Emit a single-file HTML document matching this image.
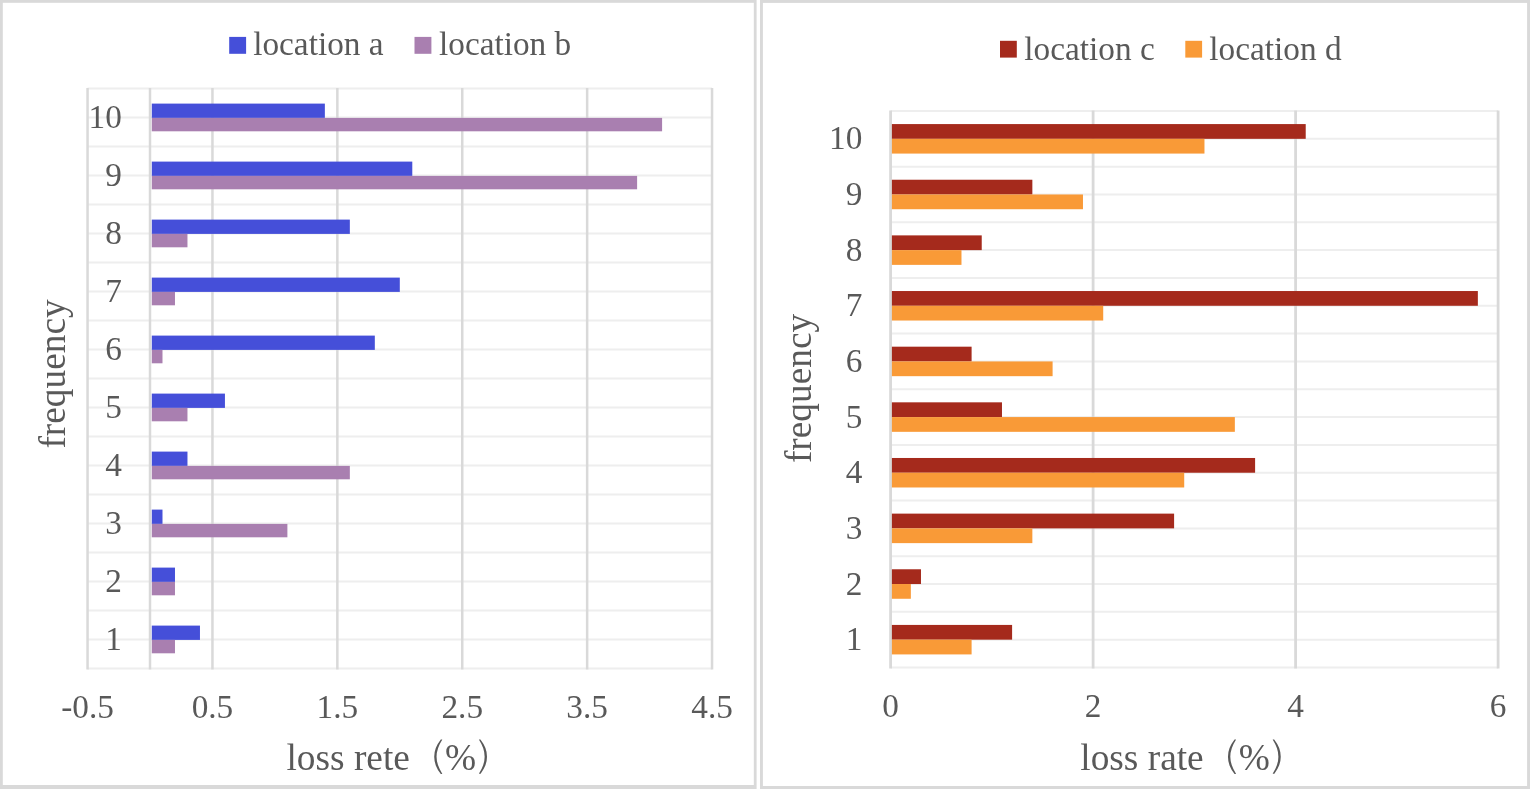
<!DOCTYPE html>
<html lang="en">
<head>
<meta charset="utf-8">
<title>Loss rate by frequency</title>
<style>
html,body{margin:0;padding:0;background:#fff;}
body{width:1530px;height:789px;overflow:hidden;}
svg{display:block;}
svg text{font-family:"Liberation Serif","Noto Serif CJK SC",serif;fill:#595959;}
</style>
</head>
<body>
<svg width="1530" height="789" viewBox="0 0 1530 789">
<rect x="0" y="0" width="1530" height="789" fill="#fff"/>
<rect x="0" y="0" width="756.6" height="789" fill="#d9d9d9"/>
<rect x="2.8" y="2.8" width="751" height="782.2" fill="#fff"/>
<line x1="87.5" x2="712.1" y1="88.5" y2="88.5" stroke="#eeeeee" stroke-width="2"/>
<line x1="87.5" x2="712.1" y1="117.5" y2="117.5" stroke="#eeeeee" stroke-width="2"/>
<line x1="87.5" x2="712.1" y1="146.5" y2="146.5" stroke="#eeeeee" stroke-width="2"/>
<line x1="87.5" x2="712.1" y1="175.5" y2="175.5" stroke="#eeeeee" stroke-width="2"/>
<line x1="87.5" x2="712.1" y1="204.5" y2="204.5" stroke="#eeeeee" stroke-width="2"/>
<line x1="87.5" x2="712.1" y1="233.5" y2="233.5" stroke="#eeeeee" stroke-width="2"/>
<line x1="87.5" x2="712.1" y1="262.5" y2="262.5" stroke="#eeeeee" stroke-width="2"/>
<line x1="87.5" x2="712.1" y1="291.5" y2="291.5" stroke="#eeeeee" stroke-width="2"/>
<line x1="87.5" x2="712.1" y1="320.5" y2="320.5" stroke="#eeeeee" stroke-width="2"/>
<line x1="87.5" x2="712.1" y1="349.5" y2="349.5" stroke="#eeeeee" stroke-width="2"/>
<line x1="87.5" x2="712.1" y1="378.5" y2="378.5" stroke="#eeeeee" stroke-width="2"/>
<line x1="87.5" x2="712.1" y1="407.5" y2="407.5" stroke="#eeeeee" stroke-width="2"/>
<line x1="87.5" x2="712.1" y1="436.5" y2="436.5" stroke="#eeeeee" stroke-width="2"/>
<line x1="87.5" x2="712.1" y1="465.5" y2="465.5" stroke="#eeeeee" stroke-width="2"/>
<line x1="87.5" x2="712.1" y1="494.5" y2="494.5" stroke="#eeeeee" stroke-width="2"/>
<line x1="87.5" x2="712.1" y1="523.5" y2="523.5" stroke="#eeeeee" stroke-width="2"/>
<line x1="87.5" x2="712.1" y1="552.5" y2="552.5" stroke="#eeeeee" stroke-width="2"/>
<line x1="87.5" x2="712.1" y1="581.5" y2="581.5" stroke="#eeeeee" stroke-width="2"/>
<line x1="87.5" x2="712.1" y1="610.5" y2="610.5" stroke="#eeeeee" stroke-width="2"/>
<line x1="87.5" x2="712.1" y1="639.5" y2="639.5" stroke="#eeeeee" stroke-width="2"/>
<line x1="87.5" x2="712.1" y1="668.5" y2="668.5" stroke="#eeeeee" stroke-width="2"/>
<line x1="87.55" x2="87.55" y1="88" y2="669.5" stroke="#d9d9d9" stroke-width="2.5"/>
<line x1="150" x2="150" y1="88" y2="669.5" stroke="#d9d9d9" stroke-width="2.5"/>
<line x1="212.45" x2="212.45" y1="88" y2="669.5" stroke="#d9d9d9" stroke-width="2.5"/>
<line x1="337.35" x2="337.35" y1="88" y2="669.5" stroke="#d9d9d9" stroke-width="2.5"/>
<line x1="462.25" x2="462.25" y1="88" y2="669.5" stroke="#d9d9d9" stroke-width="2.5"/>
<line x1="587.15" x2="587.15" y1="88" y2="669.5" stroke="#d9d9d9" stroke-width="2.5"/>
<line x1="712.05" x2="712.05" y1="88" y2="669.5" stroke="#d9d9d9" stroke-width="2.5"/>
<rect x="151.8" y="625.6" width="48.16" height="14.3" fill="#454fd9"/>
<rect x="151.8" y="639.9" width="23.18" height="13.4" fill="#a97fb0"/>
<rect x="151.8" y="567.6" width="23.18" height="14.3" fill="#454fd9"/>
<rect x="151.8" y="581.9" width="23.18" height="13.4" fill="#a97fb0"/>
<rect x="151.8" y="509.6" width="10.69" height="14.3" fill="#454fd9"/>
<rect x="151.8" y="523.9" width="135.59" height="13.4" fill="#a97fb0"/>
<rect x="151.8" y="451.6" width="35.67" height="14.3" fill="#454fd9"/>
<rect x="151.8" y="465.9" width="198.04" height="13.4" fill="#a97fb0"/>
<rect x="151.8" y="393.6" width="73.14" height="14.3" fill="#454fd9"/>
<rect x="151.8" y="407.9" width="35.67" height="13.4" fill="#a97fb0"/>
<rect x="151.8" y="335.6" width="223.02" height="14.3" fill="#454fd9"/>
<rect x="151.8" y="349.9" width="10.69" height="13.4" fill="#a97fb0"/>
<rect x="151.8" y="277.6" width="248" height="14.3" fill="#454fd9"/>
<rect x="151.8" y="291.9" width="23.18" height="13.4" fill="#a97fb0"/>
<rect x="151.8" y="219.6" width="198.04" height="14.3" fill="#454fd9"/>
<rect x="151.8" y="233.9" width="35.67" height="13.4" fill="#a97fb0"/>
<rect x="151.8" y="161.6" width="260.49" height="14.3" fill="#454fd9"/>
<rect x="151.8" y="175.9" width="485.31" height="13.4" fill="#a97fb0"/>
<rect x="151.8" y="103.6" width="173.06" height="14.3" fill="#454fd9"/>
<rect x="151.8" y="117.9" width="510.29" height="13.4" fill="#a97fb0"/>
<text x="121.8" y="650" text-anchor="end" font-size="33.3">1</text>
<text x="121.8" y="592" text-anchor="end" font-size="33.3">2</text>
<text x="121.8" y="534" text-anchor="end" font-size="33.3">3</text>
<text x="121.8" y="476" text-anchor="end" font-size="33.3">4</text>
<text x="121.8" y="418" text-anchor="end" font-size="33.3">5</text>
<text x="121.8" y="360" text-anchor="end" font-size="33.3">6</text>
<text x="121.8" y="302" text-anchor="end" font-size="33.3">7</text>
<text x="121.8" y="244" text-anchor="end" font-size="33.3">8</text>
<text x="121.8" y="186" text-anchor="end" font-size="33.3">9</text>
<text x="121.8" y="128" text-anchor="end" font-size="33.3">10</text>
<text x="87.55" y="717.6" text-anchor="middle" font-size="33.3">-0.5</text>
<text x="212.45" y="717.6" text-anchor="middle" font-size="33.3">0.5</text>
<text x="337.35" y="717.6" text-anchor="middle" font-size="33.3">1.5</text>
<text x="462.25" y="717.6" text-anchor="middle" font-size="33.3">2.5</text>
<text x="587.15" y="717.6" text-anchor="middle" font-size="33.3">3.5</text>
<text x="712.05" y="717.6" text-anchor="middle" font-size="33.3">4.5</text>
<text x="286.5" y="770.1" font-size="37.33">loss rete<tspan x="411" dy="-0.8" font-size="35.9" font-family="NanumGothic, 'Noto Serif CJK SC', sans-serif">（</tspan><tspan x="444.9" dy="0.8" font-size="37.33">%</tspan><tspan x="476.5" dy="-0.8" font-size="35.9" font-family="NanumGothic, 'Noto Serif CJK SC', sans-serif">）</tspan></text>
<text transform="translate(65,374) rotate(-90)" text-anchor="middle" font-size="37.33">frequency</text>
<rect x="229.2" y="36.9" width="16.9" height="16.9" fill="#454fd9"/>
<text x="253.2" y="55.3" font-size="33.3">location a</text>
<rect x="414.5" y="36.9" width="16.9" height="16.9" fill="#a97fb0"/>
<text x="439" y="55.3" font-size="33.3">location b</text>
<rect x="760" y="0" width="770" height="789" fill="#d9d9d9"/>
<rect x="762.9" y="2.9" width="764.2" height="783.1" fill="#fff"/>
<line x1="890.6" x2="1498.1" y1="111" y2="111" stroke="#eeeeee" stroke-width="2"/>
<line x1="890.6" x2="1498.1" y1="138.82" y2="138.82" stroke="#eeeeee" stroke-width="2"/>
<line x1="890.6" x2="1498.1" y1="166.65" y2="166.65" stroke="#eeeeee" stroke-width="2"/>
<line x1="890.6" x2="1498.1" y1="194.47" y2="194.47" stroke="#eeeeee" stroke-width="2"/>
<line x1="890.6" x2="1498.1" y1="222.3" y2="222.3" stroke="#eeeeee" stroke-width="2"/>
<line x1="890.6" x2="1498.1" y1="250.12" y2="250.12" stroke="#eeeeee" stroke-width="2"/>
<line x1="890.6" x2="1498.1" y1="277.95" y2="277.95" stroke="#eeeeee" stroke-width="2"/>
<line x1="890.6" x2="1498.1" y1="305.77" y2="305.77" stroke="#eeeeee" stroke-width="2"/>
<line x1="890.6" x2="1498.1" y1="333.6" y2="333.6" stroke="#eeeeee" stroke-width="2"/>
<line x1="890.6" x2="1498.1" y1="361.42" y2="361.42" stroke="#eeeeee" stroke-width="2"/>
<line x1="890.6" x2="1498.1" y1="389.25" y2="389.25" stroke="#eeeeee" stroke-width="2"/>
<line x1="890.6" x2="1498.1" y1="417.07" y2="417.07" stroke="#eeeeee" stroke-width="2"/>
<line x1="890.6" x2="1498.1" y1="444.9" y2="444.9" stroke="#eeeeee" stroke-width="2"/>
<line x1="890.6" x2="1498.1" y1="472.72" y2="472.72" stroke="#eeeeee" stroke-width="2"/>
<line x1="890.6" x2="1498.1" y1="500.55" y2="500.55" stroke="#eeeeee" stroke-width="2"/>
<line x1="890.6" x2="1498.1" y1="528.38" y2="528.38" stroke="#eeeeee" stroke-width="2"/>
<line x1="890.6" x2="1498.1" y1="556.2" y2="556.2" stroke="#eeeeee" stroke-width="2"/>
<line x1="890.6" x2="1498.1" y1="584.02" y2="584.02" stroke="#eeeeee" stroke-width="2"/>
<line x1="890.6" x2="1498.1" y1="611.85" y2="611.85" stroke="#eeeeee" stroke-width="2"/>
<line x1="890.6" x2="1498.1" y1="639.67" y2="639.67" stroke="#eeeeee" stroke-width="2"/>
<line x1="890.6" x2="1498.1" y1="667.5" y2="667.5" stroke="#eeeeee" stroke-width="2"/>
<line x1="890.6" x2="890.6" y1="110.5" y2="668.5" stroke="#d9d9d9" stroke-width="2.8"/>
<line x1="1093.1" x2="1093.1" y1="110.5" y2="668.5" stroke="#d9d9d9" stroke-width="2.8"/>
<line x1="1295.6" x2="1295.6" y1="110.5" y2="668.5" stroke="#d9d9d9" stroke-width="2.8"/>
<line x1="1498.1" x2="1498.1" y1="110.5" y2="668.5" stroke="#d9d9d9" stroke-width="2.8"/>
<rect x="891.9" y="624.92" width="120.2" height="14.75" fill="#a52a1c"/>
<rect x="891.9" y="639.67" width="79.7" height="14.75" fill="#f99a37"/>
<rect x="891.9" y="569.27" width="29.08" height="14.75" fill="#a52a1c"/>
<rect x="891.9" y="584.02" width="18.95" height="14.75" fill="#f99a37"/>
<rect x="891.9" y="513.62" width="282.2" height="14.75" fill="#a52a1c"/>
<rect x="891.9" y="528.38" width="140.45" height="14.75" fill="#f99a37"/>
<rect x="891.9" y="457.98" width="363.2" height="14.75" fill="#a52a1c"/>
<rect x="891.9" y="472.73" width="292.32" height="14.75" fill="#f99a37"/>
<rect x="891.9" y="402.33" width="110.08" height="14.75" fill="#a52a1c"/>
<rect x="891.9" y="417.08" width="342.95" height="14.75" fill="#f99a37"/>
<rect x="891.9" y="346.68" width="79.7" height="14.75" fill="#a52a1c"/>
<rect x="891.9" y="361.43" width="160.7" height="14.75" fill="#f99a37"/>
<rect x="891.9" y="291.03" width="585.95" height="14.75" fill="#a52a1c"/>
<rect x="891.9" y="305.78" width="211.32" height="14.75" fill="#f99a37"/>
<rect x="891.9" y="235.38" width="89.83" height="14.75" fill="#a52a1c"/>
<rect x="891.9" y="250.12" width="69.58" height="14.75" fill="#f99a37"/>
<rect x="891.9" y="179.73" width="140.45" height="14.75" fill="#a52a1c"/>
<rect x="891.9" y="194.48" width="191.07" height="14.75" fill="#f99a37"/>
<rect x="891.9" y="124.08" width="413.82" height="14.75" fill="#a52a1c"/>
<rect x="891.9" y="138.83" width="312.57" height="14.75" fill="#f99a37"/>
<text x="862.3" y="650.17" text-anchor="end" font-size="33.3">1</text>
<text x="862.3" y="594.52" text-anchor="end" font-size="33.3">2</text>
<text x="862.3" y="538.88" text-anchor="end" font-size="33.3">3</text>
<text x="862.3" y="483.23" text-anchor="end" font-size="33.3">4</text>
<text x="862.3" y="427.58" text-anchor="end" font-size="33.3">5</text>
<text x="862.3" y="371.93" text-anchor="end" font-size="33.3">6</text>
<text x="862.3" y="316.28" text-anchor="end" font-size="33.3">7</text>
<text x="862.3" y="260.62" text-anchor="end" font-size="33.3">8</text>
<text x="862.3" y="204.98" text-anchor="end" font-size="33.3">9</text>
<text x="862.3" y="149.33" text-anchor="end" font-size="33.3">10</text>
<text x="890.6" y="717.2" text-anchor="middle" font-size="33.3">0</text>
<text x="1093.1" y="717.2" text-anchor="middle" font-size="33.3">2</text>
<text x="1295.6" y="717.2" text-anchor="middle" font-size="33.3">4</text>
<text x="1498.1" y="717.2" text-anchor="middle" font-size="33.3">6</text>
<text x="1080.3" y="770.1" font-size="37.33">loss rate<tspan x="1204.8" dy="-0.8" font-size="35.9" font-family="NanumGothic, 'Noto Serif CJK SC', sans-serif">（</tspan><tspan x="1238.7" dy="0.8" font-size="37.33">%</tspan><tspan x="1270.3" dy="-0.8" font-size="35.9" font-family="NanumGothic, 'Noto Serif CJK SC', sans-serif">）</tspan></text>
<text transform="translate(810.6,388.5) rotate(-90)" text-anchor="middle" font-size="37.33">frequency</text>
<rect x="1000" y="40.8" width="16.8" height="16.8" fill="#a52a1c"/>
<text x="1024.3" y="59.6" font-size="33.3">location c</text>
<rect x="1185.3" y="40.8" width="16.8" height="16.8" fill="#f99a37"/>
<text x="1209.3" y="59.6" font-size="33.3">location d</text>
</svg>
</body>
</html>
